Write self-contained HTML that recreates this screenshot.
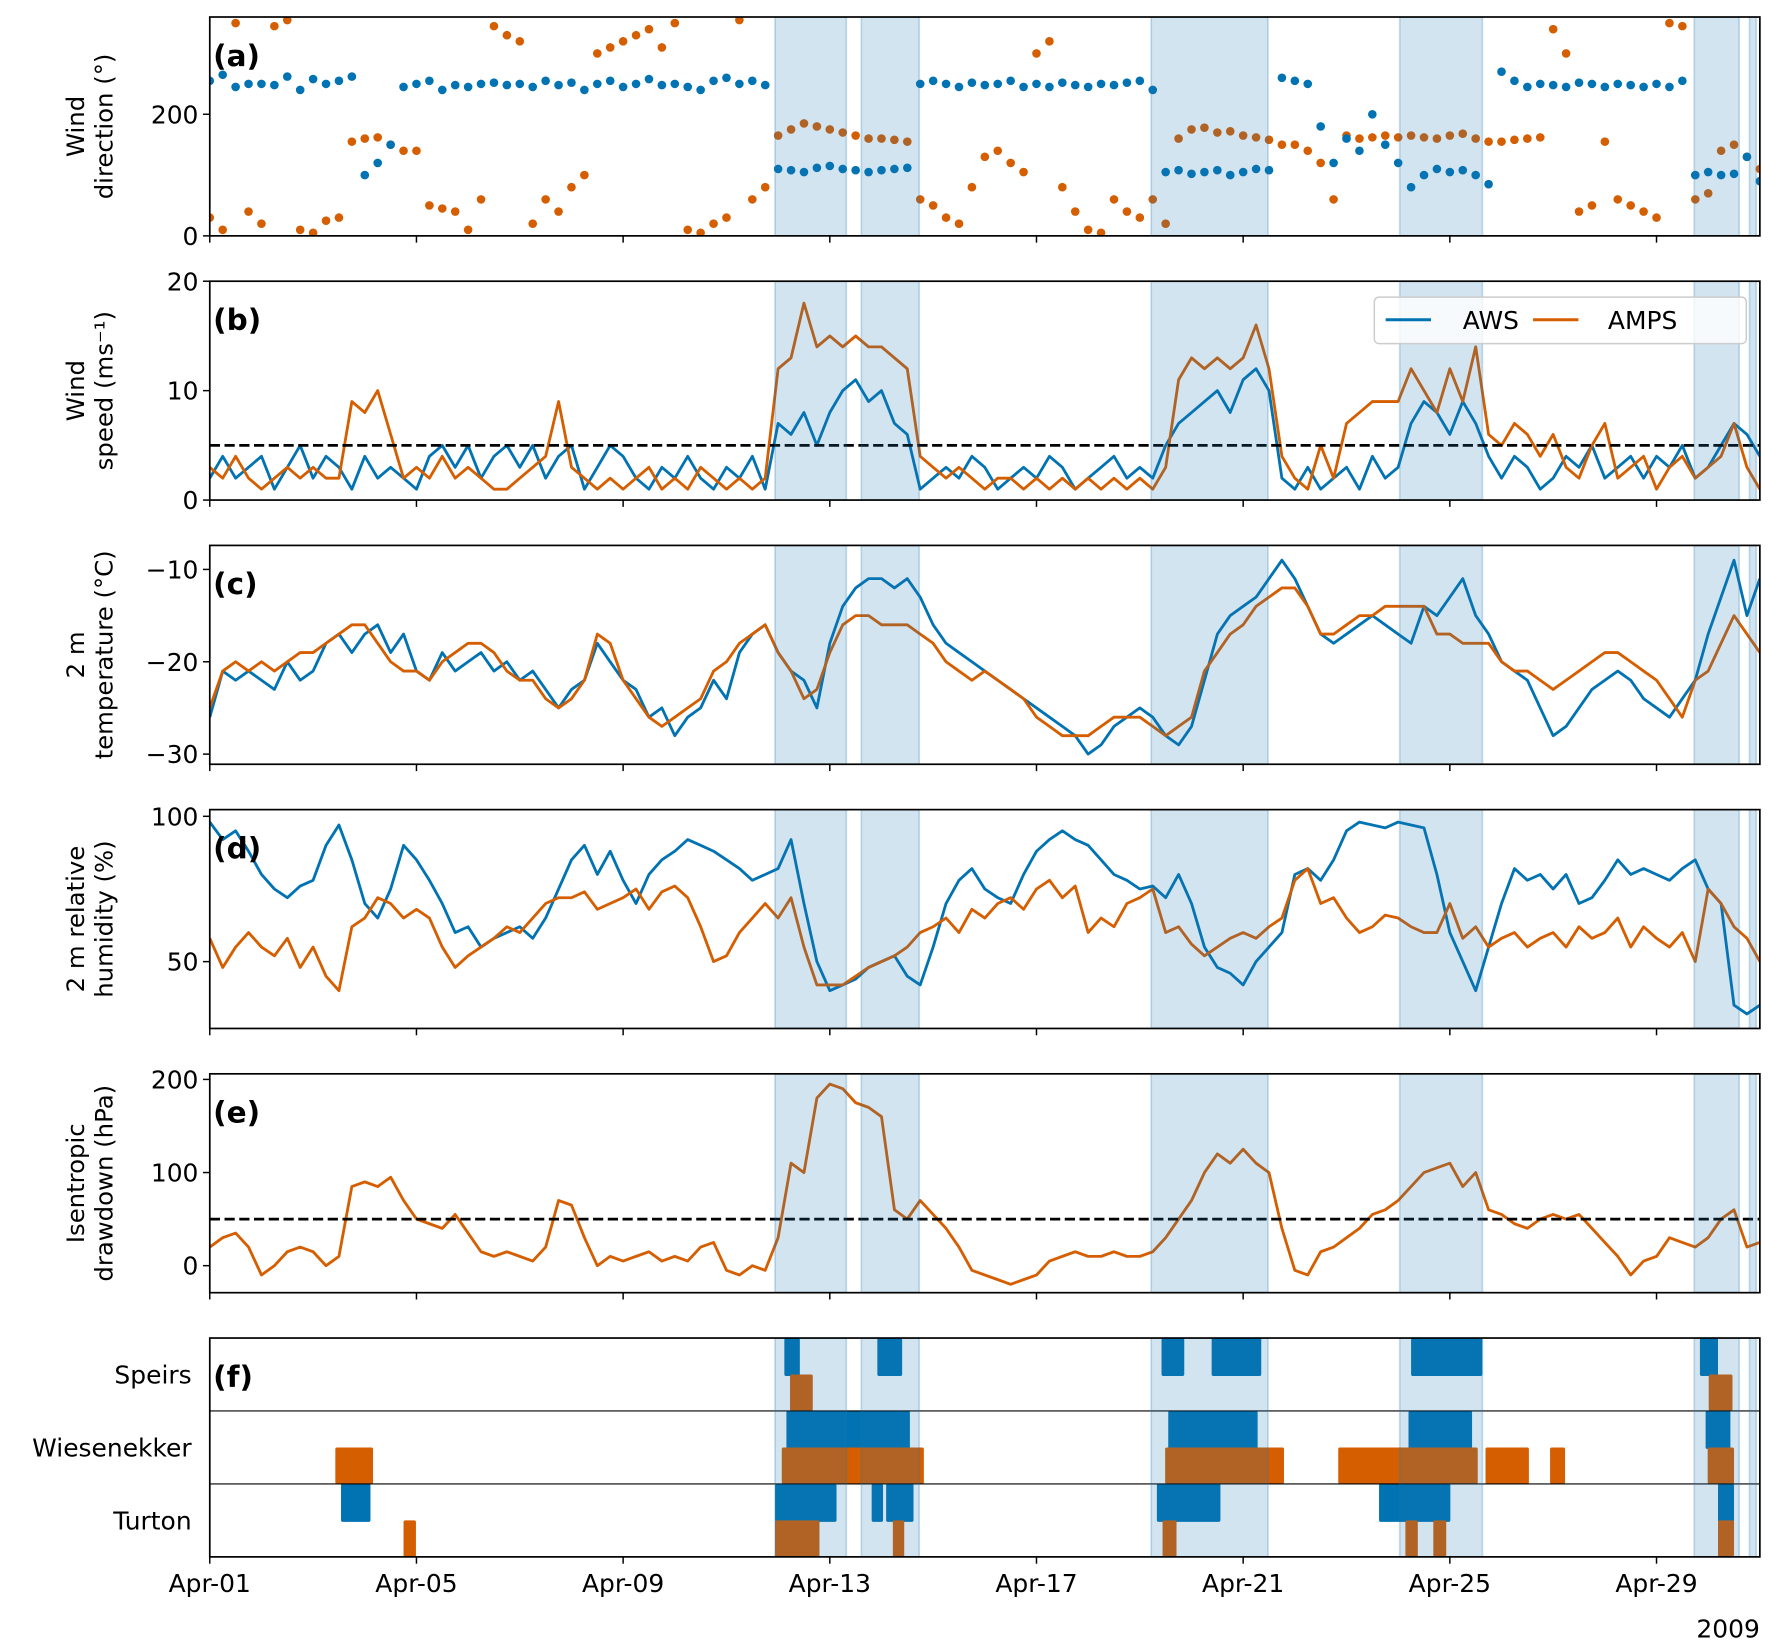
<!DOCTYPE html>
<html><head><meta charset="utf-8"><style>
html,body{margin:0;padding:0;background:#fff;}
svg{display:block;font-family:"DejaVu Sans","Liberation Sans",sans-serif;}
</style></head><body>
<svg id="fig" width="1778" height="1651" viewBox="0 0 1568 1456" xmlns="http://www.w3.org/2000/svg"></svg>
<script>
// ---- data (4 samples per day, day 0 = Apr-01 00:00) ----
const spans=[[10.94,12.32],[12.61,13.73],[18.22,20.48],[23.03,24.63],[28.73,29.6],[29.8,29.93]];
const dirAWS=[255,265,245,250,250,248,262,240,258,250,255,262,100,120,150,245,250,255,240,248,245,250,252,248,250,245,255,248,252,240,250,255,245,250,258,248,250,245,240,255,260,250,255,248,110,108,105,112,115,110,108,105,108,110,112,250,255,250,245,252,248,250,255,245,250,245,252,248,245,250,248,252,255,240,105,108,102,105,108,100,105,110,108,260,255,250,180,120,160,140,200,150,120,80,100,110,105,108,100,85,270,255,245,250,248,245,252,250,245,250,248,245,250,245,255,100,105,100,102,130,90];
const dirAMPS=[30,10,350,40,20,345,355,10,5,25,30,155,160,162,150,140,140,50,45,40,10,60,345,330,320,20,60,40,80,100,300,310,320,330,340,310,350,10,5,20,30,355,60,80,165,175,185,180,175,170,165,160,160,158,155,60,50,30,20,80,130,140,120,105,300,320,80,40,10,5,60,40,30,60,20,160,175,178,170,172,165,162,158,150,150,140,120,60,165,160,162,165,162,165,162,160,165,168,160,155,155,158,160,162,340,300,40,50,155,60,50,40,30,350,345,60,70,140,150,130,110];
const spdAWS=[2,4,2,3,4,1,3,5,2,4,3,1,4,2,3,2,1,4,5,3,5,2,4,5,3,5,2,4,5,1,3,5,4,2,1,3,2,4,2,1,3,2,4,1,7,6,8,5,8,10,11,9,10,7,6,1,2,3,2,4,3,1,2,3,2,4,3,1,2,3,4,2,3,2,5,7,8,9,10,8,11,12,10,2,1,3,1,2,3,1,4,2,3,7,9,8,6,9,7,4,2,4,3,1,2,4,3,5,2,3,4,2,4,3,5,2,3,5,7,6,4];
const spdAMPS=[3,2,4,2,1,2,3,2,3,2,2,9,8,10,6,2,3,2,4,2,3,2,1,1,2,3,4,9,3,2,1,2,1,2,3,1,2,1,3,2,1,2,1,2,12,13,18,14,15,14,15,14,14,13,12,4,3,2,3,2,1,2,2,1,2,1,2,1,2,1,2,1,2,1,3,11,13,12,13,12,13,16,12,4,2,1,5,2,7,8,9,9,9,12,10,8,12,9,14,6,5,7,6,4,6,3,2,5,7,2,3,4,1,3,4,2,3,4,7,3,1];
const tAWS=[-26,-21,-22,-21,-22,-23,-20,-22,-21,-18,-17,-19,-17,-16,-19,-17,-21,-22,-19,-21,-20,-19,-21,-20,-22,-21,-23,-25,-23,-22,-18,-20,-22,-23,-26,-25,-28,-26,-25,-22,-24,-19,-17,-16,-19,-21,-22,-25,-18,-14,-12,-11,-11,-12,-11,-13,-16,-18,-19,-20,-21,-22,-23,-24,-25,-26,-27,-28,-30,-29,-27,-26,-25,-26,-28,-29,-27,-22,-17,-15,-14,-13,-11,-9,-11,-14,-17,-18,-17,-16,-15,-16,-17,-18,-14,-15,-13,-11,-15,-17,-20,-21,-22,-25,-28,-27,-25,-23,-22,-21,-22,-24,-25,-26,-24,-22,-17,-13,-9,-15,-11];
const tAMPS=[-25,-21,-20,-21,-20,-21,-20,-19,-19,-18,-17,-16,-16,-18,-20,-21,-21,-22,-20,-19,-18,-18,-19,-21,-22,-22,-24,-25,-24,-22,-17,-18,-22,-24,-26,-27,-26,-25,-24,-21,-20,-18,-17,-16,-19,-21,-24,-23,-19,-16,-15,-15,-16,-16,-16,-17,-18,-20,-21,-22,-21,-22,-23,-24,-26,-27,-28,-28,-28,-27,-26,-26,-26,-27,-28,-27,-26,-21,-19,-17,-16,-14,-13,-12,-12,-14,-17,-17,-16,-15,-15,-14,-14,-14,-14,-17,-17,-18,-18,-18,-20,-21,-21,-22,-23,-22,-21,-20,-19,-19,-20,-21,-22,-24,-26,-22,-21,-18,-15,-17,-19];
const rhAWS=[98,92,95,88,80,75,72,76,78,90,97,85,70,65,75,90,85,78,70,60,62,55,58,60,62,58,65,75,85,90,80,88,78,70,80,85,88,92,90,88,85,82,78,80,82,92,70,50,40,42,44,48,50,52,45,42,55,70,78,82,75,72,70,80,88,92,95,92,90,85,80,78,75,76,72,80,70,55,48,46,42,50,55,60,80,82,78,85,95,98,97,96,98,97,96,80,60,50,40,55,70,82,78,80,75,80,70,72,78,85,80,82,80,78,82,85,75,70,35,32,35];
const rhAMPS=[58,48,55,60,55,52,58,48,55,45,40,62,65,72,70,65,68,65,55,48,52,55,58,62,60,65,70,72,72,74,68,70,72,75,68,74,76,72,62,50,52,60,65,70,65,72,55,42,42,42,45,48,50,52,55,60,62,65,60,68,65,70,72,68,75,78,72,76,60,65,62,70,72,75,60,62,56,52,55,58,60,58,62,65,78,82,70,72,65,60,62,66,65,62,60,60,70,58,62,55,58,60,55,58,60,55,62,58,60,65,55,62,58,55,60,50,75,70,62,58,50];
const ddAMPS=[20,30,35,20,-10,0,15,20,15,0,10,85,90,85,95,70,50,45,40,55,35,15,10,15,10,5,20,70,65,30,0,10,5,10,15,5,10,5,20,25,-5,-10,0,-5,30,110,100,180,195,190,175,170,160,60,50,70,55,40,20,-5,-10,-15,-20,-15,-10,5,10,15,10,10,15,10,10,15,30,50,70,100,120,110,125,110,100,40,-5,-10,15,20,30,40,55,60,70,85,100,105,110,85,100,60,55,45,40,50,55,50,55,40,25,10,-10,5,10,30,25,20,30,50,60,20,25];
const evRows=["Speirs","Wiesenekker","Turton"];
const evAWS=[[[11.12,11.42],[12.92,13.4],[18.42,18.86],[19.39,20.35],[23.25,24.63],[28.84,29.19]],
 [[11.16,13.55],[18.55,20.28],[23.2,24.43],[28.95,29.43]],
 [[2.54,3.11],[10.94,12.13],[12.81,13.03],[13.09,13.62],[18.33,19.56],[22.63,24.01],[29.19,29.5]]];
const evAMPS=[[[11.23,11.67],[29.01,29.47]],
 [[2.43,3.16],[11.07,13.82],[18.49,20.79],[21.84,24.54],[24.69,25.53],[25.94,26.23],[28.99,29.5]],
 [[3.75,3.99],[10.94,11.8],[13.22,13.44],[18.44,18.71],[23.14,23.38],[23.68,23.93],[29.19,29.5]]];
const xTickDays=[0,4,8,12,16,20,24,28];
const xTickLabels=["Apr-01","Apr-05","Apr-09","Apr-13","Apr-17","Apr-21","Apr-25","Apr-29"];

// ---- layout ----
const NS="http://www.w3.org/2000/svg";
const svg=document.getElementById('fig');
const L=185,R=1552,BLUE="#0173b2",ORANGE="#d55e00",FS=22;
const x=d=>L+(d/30)*(R-L);
function el(tag,attrs,parent){const e=document.createElementNS(NS,tag);for(const k in attrs)e.setAttribute(k,attrs[k]);(parent||svg).appendChild(e);return e;}
function txt(s,attrs,parent){const e=el('text',attrs,parent);e.textContent=s;return e;}
const panels=[
 {id:'a',top:15,lo:0,hi:360,ticks:[0,200],lab:["Wind","direction (°)"]},
 {id:'b',top:248,lo:0,hi:20,ticks:[0,10,20],lab:["Wind","speed (ms⁻¹)"]},
 {id:'c',top:481,lo:-31.1,hi:-7.4,ticks:[-10,-20,-30],lab:["2 m","temperature (°C)"],tl:["−10","−20","−30"]},
 {id:'d',top:714,lo:27,hi:102.3,ticks:[50,100],lab:["2 m relative","humidity (%)"]},
 {id:'e',top:947,lo:-29,hi:206,ticks:[0,100,200],lab:["Isentropic","drawdown (hPa)"]},
 {id:'f',top:1180,lo:0,hi:3,ticks:[],lab:null}];
const H=193;
const ts=spdAWS.map((_,i)=>i/4);
panels.forEach(p=>{
 const g=el('g',{},svg);
 
 
 const y=v=>p.top+H-(v-p.lo)/(p.hi-p.lo)*H;
 const clip=el('clipPath',{id:'clip'+p.id},g);
 el('rect',{x:L,y:p.top,width:R-L,height:H},clip);
 const plot=el('g',{'clip-path':'url(#clip'+p.id+')'},g);
 
 
 const line=(arr,col,name)=>{const pl=el('polyline',{points:arr.map((v,i)=>x(ts[i]).toFixed(1)+','+y(v).toFixed(1)).join(' '),fill:'none',stroke:col,'stroke-width':2.5,'stroke-linejoin':'round'},plot);};
 if(p.id==='a'){
  [[dirAMPS,ORANGE,'amps'],[dirAWS,BLUE,'aws']].forEach(([arr,col,n])=>arr.forEach((v,i)=>{const c=el('circle',{cx:x(ts[i]),cy:y(v),r:3.8,fill:col},plot);}));
 }
 if(p.id==='b'){line(spdAWS,BLUE,'aws-speed-line');line(spdAMPS,ORANGE,'amps-speed-line');}
 if(p.id==='c'){line(tAWS,BLUE,'aws-temperature-line');line(tAMPS,ORANGE,'amps-temperature-line');}
 if(p.id==='d'){line(rhAWS,BLUE,'aws-humidity-line');line(rhAMPS,ORANGE,'amps-humidity-line');}
 if(p.id==='e'){line(ddAMPS,ORANGE,'amps-drawdown-line');}
 if(p.id==='b'||p.id==='e'){const th=p.id==='b'?5:50;const d=el('line',{x1:L,x2:R,y1:y(th),y2:y(th),stroke:'#000','stroke-width':2.4,'stroke-dasharray':'9,4'},plot);}
 if(p.id==='f'){
  const rh=H/3;
  evRows.forEach((r,ri)=>{
   const rt=p.top+ri*rh;
   evAWS[ri].forEach(s=>{const b=el('rect',{x:x(s[0]),y:rt,width:x(s[1])-x(s[0]),height:rh*0.52,fill:BLUE,rx:1.5},plot);});
   evAMPS[ri].forEach(s=>{const b=el('rect',{x:x(s[0]),y:rt+rh*0.5,width:x(s[1])-x(s[0]),height:rh*0.5,fill:ORANGE,rx:1.5},plot);});
   const t=txt(r,{x:L-16,y:rt+rh/2+8,'text-anchor':'end','font-size':FS},g);
   
   if(ri>0){el('line',{x1:L,x2:R,y1:rt,y2:rt,stroke:'#000','stroke-width':1},plot);}
  });
 }
 spans.forEach(s=>{const r=el('rect',{x:x(s[0]),y:p.top,width:x(s[1])-x(s[0]),height:H,fill:'rgba(31,119,180,0.2)',stroke:'rgba(31,119,180,0.25)','stroke-width':1.5},plot);});
 const fr=el('rect',{x:L,y:p.top,width:R-L,height:H,fill:'none',stroke:'#000','stroke-width':1.5},g);
 
 p.ticks.forEach((t,i)=>{el('line',{x1:L-6,x2:L,y1:y(t),y2:y(t),stroke:'#000','stroke-width':1.3},g);const tl=txt(p.tl?p.tl[i]:String(t),{x:L-10,y:y(t)+8,'text-anchor':'end','font-size':FS},g);});
 xTickDays.forEach((d,i)=>{el('line',{x1:x(d),x2:x(d),y1:p.top+H,y2:p.top+H+6,stroke:'#000','stroke-width':1.3},g);
  if(p.id==='f'){const tl=txt(xTickLabels[i],{x:x(d),y:p.top+H+31,'text-anchor':'middle','font-size':FS},g);}});
 const pl=txt('('+p.id+')',{x:L+3,y:p.top+43,'font-size':26,'font-weight':'bold'},g);
 
 if(p.lab){const cy=p.top+H/2;const yt=txt('',{transform:'translate(74,'+cy+') rotate(-90)','text-anchor':'middle','font-size':21.5},g);
  
  const t1=el('tspan',{x:0,dy:0},yt);t1.textContent=p.lab[0];const t2=el('tspan',{x:0,dy:25},yt);t2.textContent=p.lab[1];}
});
const yr=txt('2009',{x:R,y:1444,'text-anchor':'end','font-size':FS},svg);

// legend
const lg=el('g',{},svg);

el('rect',{x:1212,y:262,width:328,height:41,rx:4,fill:'rgba(255,255,255,0.8)',stroke:'#ccc','stroke-width':1.3},lg);
el('line',{x1:1222,x2:1262,y1:282,y2:282,stroke:BLUE,'stroke-width':2.6},lg);
const la=txt('AWS',{x:1290,y:290,'font-size':FS},lg);
el('line',{x1:1352,x2:1392,y1:282,y2:282,stroke:ORANGE,'stroke-width':2.6},lg);
const lb=txt('AMPS',{x:1418,y:290,'font-size':FS},lg);
</script>
</body></html>
